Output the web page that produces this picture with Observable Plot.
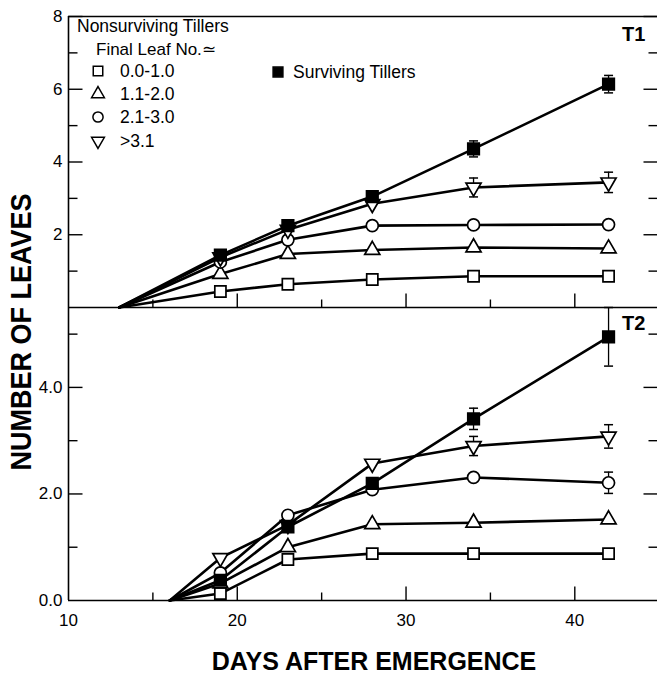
<!DOCTYPE html>
<html><head><meta charset="utf-8">
<script src="https://cdn.jsdelivr.net/npm/d3@7"></script>
<script src="https://cdn.jsdelivr.net/npm/@observablehq/plot@0.6"></script>
<style>
body{margin:0;background:#fff;font-family:"Liberation Sans",Arial,Helvetica,sans-serif;}
#wrap{position:relative;width:657px;height:675px;overflow:hidden;background:#fff;}
#wrap svg{position:absolute;left:0;}
.lab{position:absolute;white-space:nowrap;color:#000;line-height:1;}
</style></head><body><div id="wrap"></div>
<script>
// ---- data ----
const days = [19, 23, 28, 34, 42];
const originT1 = 13;
const originT2 = 16;
const seriesNames = ["0.0-1.0", "1.1-2.0", "2.1-3.0", ">3.1", "Surviving Tillers"];

// T1 panel
const t1Fl0to1   = [0.44, 0.64, 0.77, 0.86, 0.86];
const t1Fl1to2   = [0.92, 1.47, 1.58, 1.65, 1.62];
const t1Fl2to3   = [1.25, 1.86, 2.25, 2.27, 2.28];
const t1FlOver3  = [1.38, 2.14, 2.85, 3.30, 3.44];
const t1Surviving= [1.44, 2.25, 3.05, 4.36, 6.14];
const t1Fl0to1Err   = [0, 0, 0, 0, 0];
const t1Fl1to2Err   = [0, 0, 0, 0, 0];
const t1Fl2to3Err   = [0, 0, 0, 0, 0];
const t1FlOver3Err  = [0, 0, 0, 0.26, 0.28];
const t1SurvivingErr= [0, 0, 0, 0.22, 0.24];

// T2 panel
const t2Fl0to1   = [0.13, 0.77, 0.88, 0.88, 0.88];
const t2Fl1to2   = [0.32, 1.00, 1.43, 1.46, 1.52];
const t2Fl2to3   = [0.52, 1.60, 2.08, 2.31, 2.21];
const t2FlOver3  = [0.80, 1.42, 2.57, 2.90, 3.08];
const t2Surviving= [0.38, 1.38, 2.20, 3.41, 4.95];
const t2Fl0to1Err   = [0, 0, 0, 0, 0];
const t2Fl1to2Err   = [0, 0, 0, 0, 0];
const t2Fl2to3Err   = [0, 0, 0, 0, 0.20];
const t2FlOver3Err  = [0, 0, 0, 0.18, 0.22];
const t2SurvivingErr= [0, 0, 0.07, 0.20, 0.55];

// ticks
const xMajorTicks = [10, 20, 30, 40];
const xMinorTicks = [15, 25, 35];
const t1YMajor = [2, 4, 6, 8];
const t1YMinor = [1, 3, 5, 7];
const t2YMajor = [0, 2, 4];
const t2YMinor = [1, 3, 5];

// ---- symbols ----
const invTriangle = {draw(ctx, size) {
  const y = -Math.sqrt(size / (Math.sqrt(3) * 3));
  ctx.moveTo(0, -y * 2);
  ctx.lineTo(-Math.sqrt(3) * y, y);
  ctx.lineTo(Math.sqrt(3) * y, y);
  ctx.closePath();
}};
const capSym = {draw(ctx) { ctx.moveTo(-4.5, 0); ctx.lineTo(4.5, 0); }};
const hTick = len => ({draw(ctx) { ctx.moveTo(0, 0); ctx.lineTo(len, 0); }});
const vTick = len => ({draw(ctx) { ctx.moveTo(0, 0); ctx.lineTo(0, -len); }});

const styleOf = {
  "0.0-1.0": {symbol: "square", r: 6.3, fill: "white"},
  "1.1-2.0": {symbol: "triangle", r: 5.6, fill: "white"},
  "2.1-3.0": {symbol: "circle", r: 6, fill: "white"},
  ">3.1": {symbol: invTriangle, r: 5.6, fill: "white"},
  "Surviving Tillers": {symbol: "square", r: 6.5, fill: "black"}
};

function buildRows(origin, valueArrays, errArrays) {
  const rows = [], errs = [];
  seriesNames.forEach((s, i) => {
    rows.push({series: s, day: origin, value: 0, origin: true});
    days.forEach((d, j) => {
      rows.push({series: s, day: d, value: valueArrays[i][j], origin: false});
      if (errArrays[i][j] > 0) errs.push({series: s, day: d, lo: valueArrays[i][j] - errArrays[i][j], hi: valueArrays[i][j] + errArrays[i][j]});
    });
  });
  return {rows, errs};
}

const dataT1 = buildRows(originT1, [t1Fl0to1, t1Fl1to2, t1Fl2to3, t1FlOver3, t1Surviving],
  [t1Fl0to1Err, t1Fl1to2Err, t1Fl2to3Err, t1FlOver3Err, t1SurvivingErr]);
const dataT2 = buildRows(originT2, [t2Fl0to1, t2Fl1to2, t2Fl2to3, t2FlOver3, t2Surviving],
  [t2Fl0to1Err, t2Fl1to2Err, t2Fl2to3Err, t2FlOver3Err, t2SurvivingErr]);

const X_DOMAIN = [10, 44.9];
const FONT = "Liberation Sans, Arial, Helvetica, sans-serif";

function panel({data, height, marginTop, marginBottom, yDomain, yMajor, yMinor, yFmt, xLabels, topRule}) {
  const marks = [];
  marks.push(Plot.ruleX([X_DOMAIN[0]], {stroke: "black", strokeWidth: 1.6}));
  marks.push(Plot.ruleY([0], {stroke: "black", strokeWidth: 1.6}));
  if (topRule) marks.push(Plot.ruleY([yDomain[1]], {stroke: "black", strokeWidth: 1.6}));
  marks.push(Plot.dot(yMajor.filter(v => v > 0), {x: X_DOMAIN[0], y: d => d, symbol: hTick(14), stroke: "black", strokeWidth: 1.4, fill: "none"}));
  marks.push(Plot.dot(yMinor, {x: X_DOMAIN[0], y: d => d, symbol: hTick(9), stroke: "black", strokeWidth: 1.4, fill: "none"}));
  marks.push(Plot.dot(yMajor.filter(v => v > 0), {x: X_DOMAIN[1], y: d => d, symbol: hTick(-14), stroke: "black", strokeWidth: 1.4, fill: "none"}));
  marks.push(Plot.dot(yMinor, {x: X_DOMAIN[1], y: d => d, symbol: hTick(-9), stroke: "black", strokeWidth: 1.4, fill: "none"}));
  marks.push(Plot.text(yMajor, {x: X_DOMAIN[0], y: d => d, text: yFmt, textAnchor: "end", dx: -6, fontSize: 17, fill: "black"}));
  marks.push(Plot.dot(xMajorTicks.filter(v => v > X_DOMAIN[0]), {x: d => d, y: 0, symbol: vTick(14), stroke: "black", strokeWidth: 1.4, fill: "none"}));
  marks.push(Plot.dot(xMinorTicks, {x: d => d, y: 0, symbol: vTick(8), stroke: "black", strokeWidth: 1.4, fill: "none"}));
  if (xLabels) marks.push(Plot.text(xMajorTicks, {x: d => d, y: 0, text: d => String(d), dy: 20, fontSize: 17, fill: "black"}));
  marks.push(Plot.line(data.rows, {x: "day", y: "value", z: "series", stroke: "black", strokeWidth: 2.6, strokeLinejoin: "round"}));
  marks.push(Plot.ruleX(data.errs, {x: "day", y1: "lo", y2: "hi", stroke: "black", strokeWidth: 1.3}));
  marks.push(Plot.dot(data.errs, {x: "day", y: "lo", symbol: capSym, stroke: "black", strokeWidth: 1.5, fill: "none"}));
  marks.push(Plot.dot(data.errs, {x: "day", y: "hi", symbol: capSym, stroke: "black", strokeWidth: 1.5, fill: "none"}));
  for (const s of seriesNames) {
    const st = styleOf[s];
    marks.push(Plot.dot(data.rows.filter(r => r.series === s && !r.origin), {
      x: "day", y: "value", symbol: st.symbol, r: st.r, fill: st.fill, stroke: "black", strokeWidth: 1.7
    }));
  }
  return Plot.plot({
    width: 657, height, marginLeft: 68, marginRight: 0, marginTop, marginBottom,
    x: {domain: X_DOMAIN, axis: null},
    y: {domain: yDomain, axis: null},
    style: {background: "transparent", fontFamily: FONT, color: "black", overflow: "visible"},
    marks
  });
}

const wrap = document.getElementById("wrap");
const topPlot = panel({data: dataT1, height: 310, marginTop: 16, marginBottom: 3, yDomain: [0, 8],
  yMajor: t1YMajor, yMinor: t1YMinor, yFmt: d => String(d), xLabels: false, topRule: true});
topPlot.style.top = "0px";
const botPlot = panel({data: dataT2, height: 368, marginTop: 0, marginBottom: 75, yDomain: [0, 5.5],
  yMajor: t2YMajor, yMinor: t2YMinor, yFmt: d => d.toFixed(1), xLabels: true, topRule: false});
botPlot.style.top = "307px";
wrap.appendChild(botPlot);
wrap.appendChild(topPlot);

function lab(text, x, y, css) {
  const d = document.createElement("div");
  d.className = "lab";
  d.textContent = text;
  d.style.left = x + "px"; d.style.top = y + "px";
  Object.assign(d.style, css || {});
  wrap.appendChild(d);
  return d;
}
lab("NUMBER OF LEAVES", 22, 332, {fontSize: "27px", fontWeight: "bold", transform: "translate(-50%,-50%) rotate(-90deg) scaleY(1.1)"});
lab("DAYS AFTER EMERGENCE", 374, 661, {fontSize: "25px", fontWeight: "bold", transform: "translate(-50%,-50%)"});
lab("T1", 622, 24, {fontSize: "20px", fontWeight: "bold"});
lab("T2", 622, 313, {fontSize: "20px", fontWeight: "bold"});
lab("Nonsurviving Tillers", 77, 18, {fontSize: "17.5px"});
lab("Final Leaf No.\u2243", 96, 41, {fontSize: "17px", lineHeight: "17px", height: "17px"});

function legSym(series, cx, cy) {
  const st = styleOf[series];
  const sz = 18;
  const svg = d3.create("svg").attr("width", sz).attr("height", sz)
    .style("position", "absolute").style("left", (cx - sz / 2) + "px").style("top", (cy - sz / 2) + "px");
  const sym = typeof st.symbol === "string"
    ? {square: d3.symbolSquare, triangle: d3.symbolTriangle, circle: d3.symbolCircle}[st.symbol]
    : st.symbol;
  const r = st.r * 0.85;
  svg.append("path").attr("transform", `translate(${sz / 2},${sz / 2})`)
    .attr("d", d3.symbol(sym, Math.PI * r * r)())
    .attr("fill", st.fill).attr("stroke", "black").attr("stroke-width", 1.5);
  wrap.appendChild(svg.node());
}
const legendRowsY = [71, 94, 117, 141];
seriesNames.slice(0, 4).forEach((s, i) => {
  legSym(s, 98, legendRowsY[i]);
  lab(s, 120, legendRowsY[i] - 8, {fontSize: "17.5px"});
});
legSym("Surviving Tillers", 278, 72);
lab("Surviving Tillers", 293, 64, {fontSize: "17.5px"});
</script>
</body></html>
